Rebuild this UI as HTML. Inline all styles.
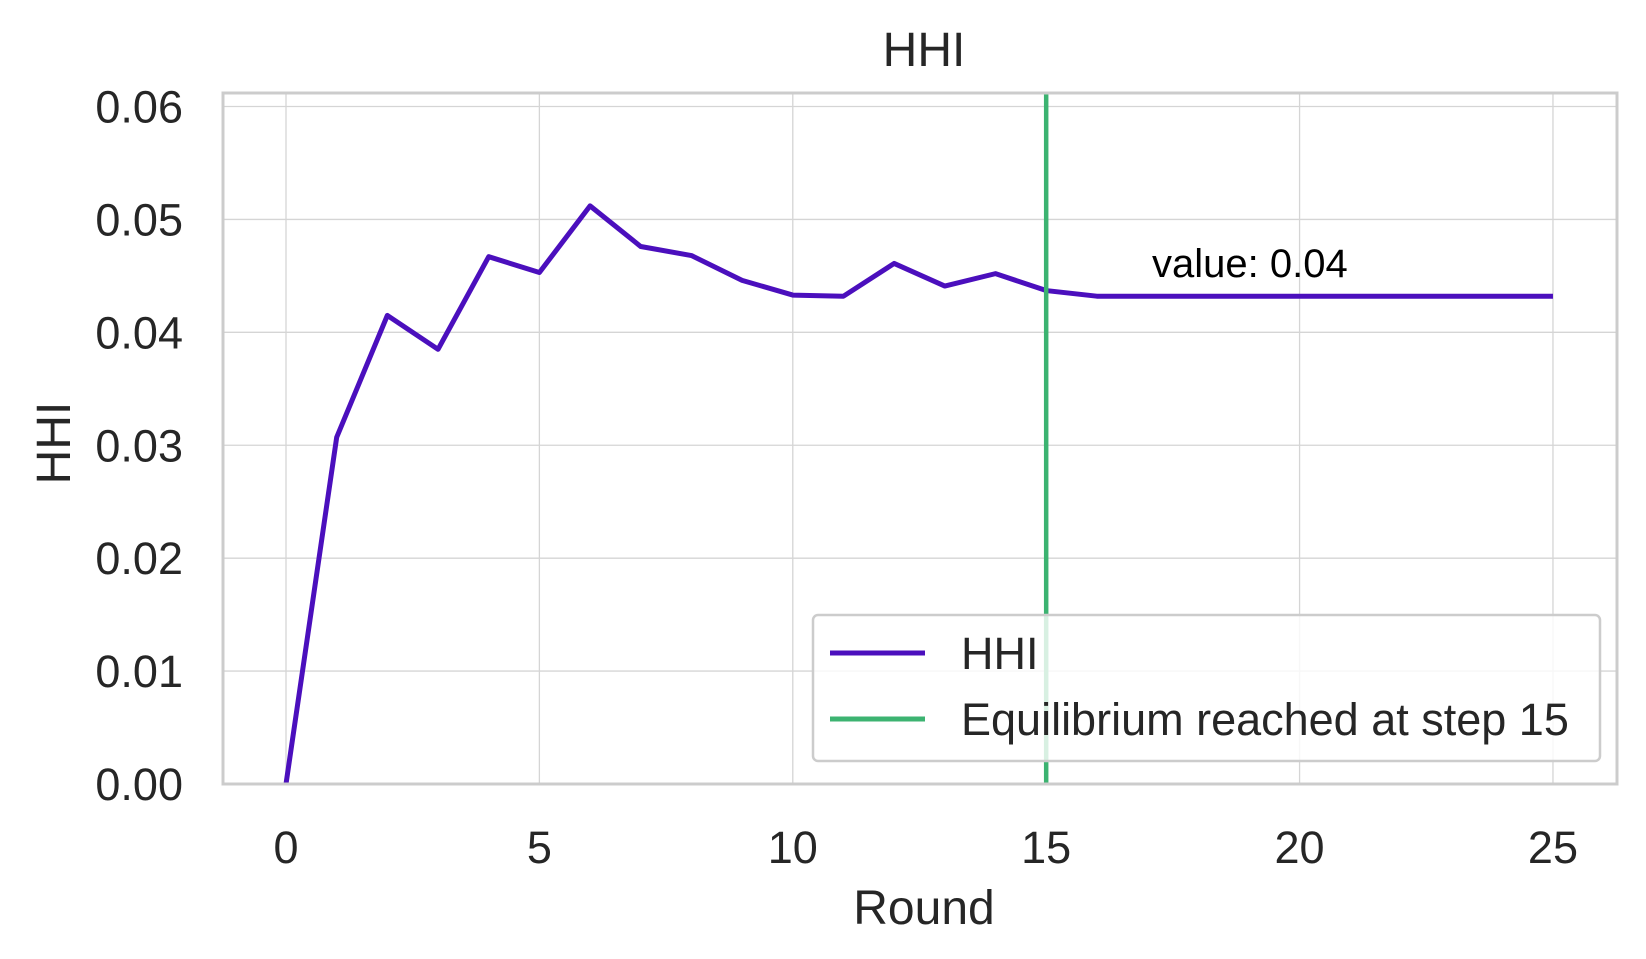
<!DOCTYPE html>
<html><head><meta charset="utf-8"><style>
body{margin:0;background:#fff}
svg{display:block;font-family:"Liberation Sans",sans-serif}
</style></head><body>
<svg id="chart" width="1646" height="959" viewBox="0 0 1646 959">
<rect width="1646" height="959" fill="#fff"/>
<g id="grid"></g>
<g id="marks"></g>
<rect x="223" y="93" width="1394" height="691" fill="none" stroke="#cccccc" stroke-width="3"/>
<text x="924" y="66" font-size="48" text-anchor="middle" fill="#262626">HHI</text>
<text x="924" y="924" font-size="48" text-anchor="middle" fill="#262626">Round</text>
<text x="0" y="0" font-size="48" text-anchor="middle" fill="#262626" transform="translate(70,443) rotate(-90)">HHI</text>
<g id="ticks"></g>
<text x="1152" y="277" font-size="40" fill="#000">value: 0.04</text>
<g>
<rect x="813" y="615" width="787" height="146" rx="5" fill="#fff" fill-opacity="0.8" stroke="#cccccc" stroke-width="2.5"/>
<line x1="830" y1="653" x2="925" y2="653" stroke="#4b0fbd" stroke-width="5"/>
<text x="961" y="669" font-size="45" fill="#262626">HHI</text>
<line x1="830" y1="719" x2="925" y2="719" stroke="#3cb371" stroke-width="5"/>
<text x="961" y="735" font-size="45" fill="#262626">Equilibrium reached at step 15</text>
</g>
</svg>
<script>
const rounds=[0,1,2,3,4,5,6,7,8,9,10,11,12,13,14,15,16,17,18,19,20,21,22,23,24,25];
const hhiValues=[0,0.0307,0.0415,0.0385,0.0467,0.0453,0.0512,0.0476,0.0468,0.0446,0.0433,0.0432,0.0461,0.0441,0.0452,0.0437,0.0432,0.0432,0.0432,0.0432,0.0432,0.0432,0.0432,0.0432,0.0432,0.0432];
const equilibriumStep=15;
const xTicks=[0,5,10,15,20,25];
const yTicks=[0,0.01,0.02,0.03,0.04,0.05,0.06];
const yTickLabels=["0.00","0.01","0.02","0.03","0.04","0.05","0.06"];
const NS="http://www.w3.org/2000/svg";
const X=v=>286+(v-0)*(1561-286)/25*0.9937;
const Y=v=>784-v*(784-106.5)/0.06;
const grid=document.getElementById('grid'),marks=document.getElementById('marks'),ticks=document.getElementById('ticks');
function mk(tag,attrs,parent){const e=document.createElementNS(NS,tag);for(const k in attrs)e.setAttribute(k,attrs[k]);parent.appendChild(e);return e;}
xTicks.forEach(t=>{
  const l=mk('line',{x1:X(t),x2:X(t),y1:93,y2:784,stroke:'#d5d5d5','stroke-width':1.3},grid);
  
  
  const tx=mk('text',{x:X(t),y:863,'font-size':45,'text-anchor':'middle',fill:'#262626'},ticks);
  tx.textContent=t;
  
  
});
yTicks.forEach((t,i)=>{
  const l=mk('line',{x1:223,x2:1617,y1:Y(t),y2:Y(t),stroke:'#d5d5d5','stroke-width':1.3},grid);
  
  
  const tx=mk('text',{x:183,y:Y(t)+16,'font-size':45,'text-anchor':'end',fill:'#262626'},ticks);
  tx.textContent=yTickLabels[i];
  
  
});
const pts=rounds.map((r,i)=>X(r)+','+Y(hhiValues[i])).join(' ');
const line=mk('polyline',{points:pts,fill:'none',stroke:'#4b0fbd','stroke-width':5,'stroke-linejoin':'round'},marks);


const eq=mk('line',{x1:X(equilibriumStep),x2:X(equilibriumStep),y1:93,y2:784,stroke:'#3cb371','stroke-width':4.5},marks);


</script>
</body></html>
